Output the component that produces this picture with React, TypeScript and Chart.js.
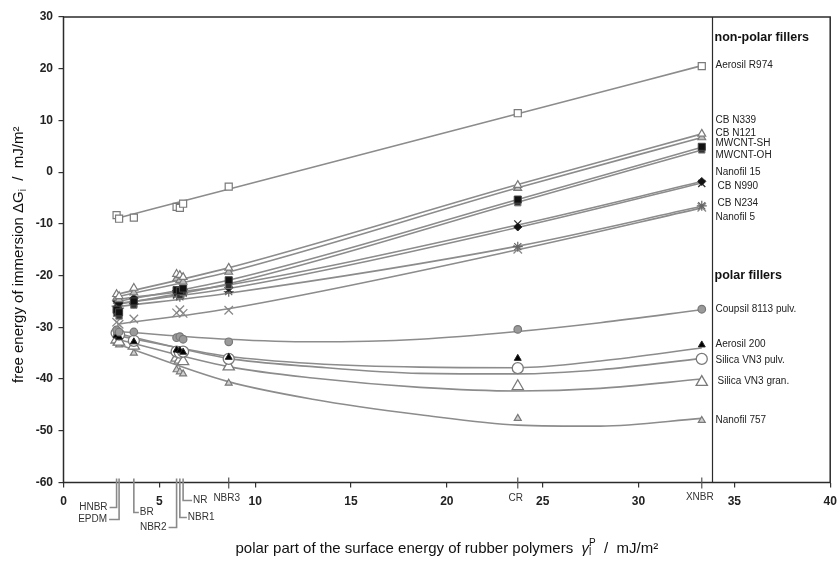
import React, { useEffect, useRef } from "react";
import { Chart, registerables } from "chart.js";
Chart.register(...registerables);

// ---------- data ----------
const polymers = ["HNBR", "EPDM", "BR", "NBR2", "NBR1", "NR", "NBR3", "CR", "XNBR"];
const polymerX = [2.77, 2.9, 3.67, 5.9, 6.07, 6.24, 8.62, 23.7, 33.3];

const fillerNames = [
  "Aerosil R974", "CB N339", "CB N121", "MWCNT-SH", "MWCNT-OH", "Nanofil 15", "CB N990", "CB N234", "Nanofil 5",
  "Coupsil 8113 pulv.", "Aerosil 200", "Silica VN3 pulv.", "Silica VN3 gran.", "Nanofil 757",
];

// measured free energy of immersion per polymer (order of `polymers`)
const aerosilR974 = [-8.3, -9.0, -8.8, -6.7, -6.9, -6.1, -2.8, 11.4, 20.5];
const cbN339 = [-23.6, -24.0, -22.4, -19.7, -19.9, -20.3, -18.5, -2.5, 7.4];
const cbN121 = [-24.3, -24.6, -23.3, -20.6, -20.9, -21.2, -19.3, -3.1, 6.7];
const mwcntSH = [-26.6, -27.1, -25.0, -22.8, -23.0, -22.5, -20.9, -5.3, 4.9];
const mwcntOH = [-27.3, -27.8, -25.7, -23.5, -23.8, -23.2, -21.9, -5.9, 4.3];
const nanofil15 = [-24.9, -25.3, -24.4, -22.9, -23.2, -22.7, -22.3, -10.6, -1.8];
const cbN990 = [-25.5, -25.8, -24.9, -23.6, -23.8, -23.2, -22.7, -10.0, -2.2];
const cbN234 = [-25.9, -26.3, -25.4, -23.8, -24.1, -23.4, -23.1, -14.4, -6.5];
const nanofil5 = [-29.0, -29.4, -28.4, -27.2, -26.6, -27.3, -26.7, -14.9, -6.8];
const coupsil8113 = [-30.5, -30.9, -30.9, -32.0, -31.8, -32.3, -32.8, -30.4, -26.5];
const aerosil200 = [-31.6, -31.9, -32.8, -34.4, -34.5, -34.8, -35.8, -36.0, -33.4];
const silicaVN3pulv = [-31.1, -31.4, -32.6, -34.7, -34.9, -34.7, -36.1, -37.9, -36.1];
const silicaVN3gran = [-32.4, -32.8, -33.6, -35.9, -36.3, -36.6, -37.6, -41.4, -40.6];
const nanofil757 = [-33.0, -33.4, -35.0, -38.2, -38.6, -39.0, -40.8, -47.6, -48.0];

// trend curves
const nonPolarTrendX = [2.8, 8.6, 23.7, 33.3];
const polarTrendX = [2.8, 8.6, 13, 18.6, 23.7, 28, 33.3];
const trendR974 = [-8.9, -3.3, 11.3, 20.6];
const trendN339 = [-23.6, -18.5, -2.4, 7.4];
const trendN121 = [-24.1, -19.3, -3.0, 6.7];
const trendSH = [-25.0, -20.9, -5.3, 4.8];
const trendOH = [-25.6, -21.6, -5.8, 4.3];
const trendNf15 = [-24.6, -21.8, -10.2, -1.8];
const trendN990 = [-25.4, -22.5, -10.7, -2.1];
const trendN234 = [-26.0, -23.4, -14.3, -6.6];
const trendNf5 = [-29.4, -26.4, -15.0, -6.9];
const trendCoupsil = [-30.8, -32.3, -32.8, -32.3, -30.8, -29.1, -26.6];
const trendA200 = [-31.6, -35.6, -37.0, -37.7, -37.8, -36.5, -34.0];
const trendVN3p = [-31.2, -36.0, -37.6, -38.9, -39.0, -38.2, -36.0];
const trendVN3g = [-32.3, -37.6, -39.8, -41.6, -42.3, -41.8, -40.0];
const trendNf757 = [-33.2, -40.5, -43.9, -46.9, -48.9, -49.1, -47.6];

const xTicks = [0, 5, 10, 15, 20, 25, 30, 35, 40];
const yTicks = [-60, -50, -40, -30, -20, -10, 0, 10, 20, 30];

const seriesValues = [
  aerosilR974, cbN339, cbN121, mwcntSH, mwcntOH, nanofil15, cbN990, cbN234, nanofil5,
  coupsil8113, aerosil200, silicaVN3pulv, silicaVN3gran, nanofil757,
];
const trendValues = [
  trendR974, trendN339, trendN121, trendSH, trendOH, trendNf15, trendN990, trendN234, trendNf5,
  trendCoupsil, trendA200, trendVN3p, trendVN3g, trendNf757,
];
const isPolar = [false, false, false, false, false, false, false, false, false, true, true, true, true, true];

// ---------- layout / style ----------
const GREY = "#7a7a7a";
const markerStyles = [
  { s: "rect", r: 5, f: "#ffffff", c: GREY, w: 1.2 },
  { s: "triangle", r: 4.5, f: "#ffffff", c: GREY, w: 1.2 },
  { s: "triangle", r: 4.5, f: "#bdbdbd", c: GREY, w: 1.2 },
  { s: "rect", r: 5, f: "#111111", c: "#444", w: 1 },
  { s: "rect", r: 4.5, f: "#333333", c: GREY, w: 1 },
  { s: "rectRot", r: 4, f: "#111111", c: "#222", w: 1 },
  { s: "crossRot", r: 5, f: "#222", c: "#333", w: 1.3 },
  { s: "star", r: 5, f: GREY, c: "#666", w: 1.2 },
  { s: "crossRot", r: 6, f: GREY, c: "#888", w: 1.3 },
  { s: "circle", r: 3.8, f: "#9a9a9a", c: "#777", w: 1.2 },
  { s: "triangle", r: 4, f: "#000000", c: "#222", w: 1 },
  { s: "circle", r: 5.5, f: "#ffffff", c: GREY, w: 1.3 },
  { s: "triangle", r: 6.5, f: "#ffffff", c: GREY, w: 1.3 },
  { s: "triangle", r: 4, f: "#d0d0d0", c: GREY, w: 1.2 },
];

const legendLabelY = [20.75, 10.1, 7.6, 5.5, 3.2, 0.06, -2.8, -6.1, -8.8, -26.5, -33.3, -36.4, -40.5, -48];
const legendIndent = [0, 0, 0, 0, 0, 0, 2, 2, 0, 0, 0, 0, 2, 0];
const legendHeaders = [
  { text: "non-polar fillers", y: 26.0 },
  { text: "polar fillers", y: -20.0 },
];
const separatorX = 33.85;

// polymer label placement below the x axis (pixel drop below axis, side of text, leader length)
const polymerLabelLayout = [
  { drop: 25, side: "left", lead: 7 },
  { drop: 37, side: "left", lead: 10 },
  { drop: 30, side: "right", lead: 5 },
  { drop: 45, side: "left", lead: 8 },
  { drop: 35, side: "right", lead: 7 },
  { drop: 18, side: "right", lead: 9 },
  { drop: 16, side: "none", lead: 0 },
  { drop: 16, side: "none", lead: 0 },
  { drop: 15, side: "none", lead: 0 },
];

const FONT = "Arial, 'Liberation Sans', Helvetica, sans-serif";

const decorPlugin = {
  id: "decor",
  afterDraw(chart: any) {
    const { ctx, chartArea: a } = chart;
    const xs = chart.scales.x;
    const ys = chart.scales.y;
    ctx.save();
    // frame
    ctx.strokeStyle = "#2b2b2b";
    ctx.lineWidth = 1.5;
    ctx.strokeRect(a.left, a.top, a.right - a.left, a.bottom - a.top);
    const sx = Math.round(xs.getPixelForValue(separatorX)) + 0.5;
    ctx.lineWidth = 1.2;
    ctx.beginPath();
    ctx.moveTo(sx, a.top);
    ctx.lineTo(sx, a.bottom);
    ctx.stroke();

    // legend texts
    ctx.textBaseline = "middle";
    ctx.textAlign = "left";
    ctx.fillStyle = "#111";
    ctx.font = `bold 12.5px ${FONT}`;
    legendHeaders.forEach((h) => ctx.fillText(h.text, sx + 2, ys.getPixelForValue(h.y)));
    ctx.font = `10px ${FONT}`;
    ctx.fillStyle = "#222";
    fillerNames.forEach((n, i) => ctx.fillText(n, sx + 3 + legendIndent[i], ys.getPixelForValue(legendLabelY[i])));

    // polymer markers on x axis
    ctx.fillStyle = "#333";
    ctx.font = `10px ${FONT}`;
    polymers.forEach((p, i) => {
      const px = xs.getPixelForValue(polymerX[i]);
      const L = polymerLabelLayout[i];
      const ty = a.bottom + L.drop;
      ctx.beginPath();
      if (L.side === "none") {
        ctx.strokeStyle = "#555";
        ctx.lineWidth = 1.2;
        ctx.moveTo(px, a.bottom - 5);
        ctx.lineTo(px, a.bottom + 6);
        ctx.stroke();
        ctx.textAlign = "center";
        ctx.fillText(p, px - 2, ty);
      } else {
        ctx.strokeStyle = "#8a8a8a";
        ctx.lineWidth = 1.6;
        ctx.moveTo(px, a.bottom - 4);
        ctx.lineTo(px, ty);
        if (L.side === "left") {
          ctx.lineTo(px - L.lead, ty);
          ctx.stroke();
          ctx.textAlign = "right";
          ctx.fillText(p, px - L.lead - 2, ty);
        } else {
          ctx.lineTo(px + L.lead, ty);
          ctx.stroke();
          ctx.textAlign = "left";
          ctx.fillText(p, px + L.lead + 1, ty);
        }
      }
    });

    // axis titles
    ctx.fillStyle = "#111";
    ctx.textAlign = "left";
    ctx.textBaseline = "alphabetic";
    const main = `15px ${FONT}`;
    const small = `10px ${FONT}`;
    // x title
    {
      const p1 = "polar part of the surface energy of rubber polymers  ";
      const g = "γ";
      const p3 = "  /  mJ/m²";
      ctx.font = main;
      const w1 = ctx.measureText(p1).width;
      const w3 = ctx.measureText(p3).width;
      ctx.font = `italic 15px ${FONT}`;
      const wg = ctx.measureText(g).width;
      ctx.font = small;
      const wsub = Math.max(ctx.measureText("l").width, ctx.measureText("P").width);
      const total = w1 + wg + wsub + w3;
      let x = (a.left + a.right) / 2 - total / 2;
      const y = 553;
      ctx.font = main;
      ctx.fillText(p1, x, y);
      x += w1;
      ctx.font = `italic 15px ${FONT}`;
      ctx.fillText(g, x, y);
      x += wg;
      ctx.font = small;
      ctx.fillText("l", x, y + 2);
      ctx.fillText("P", x, y - 7);
      x += wsub;
      ctx.font = main;
      ctx.fillText(p3, x, y);
    }
    // y title
    {
      const p1 = "free energy of immersion ΔG";
      const p3 = "  /  mJ/m²";
      ctx.font = main;
      const w1 = ctx.measureText(p1).width;
      const w3 = ctx.measureText(p3).width;
      ctx.font = small;
      const wi = ctx.measureText("i").width;
      const total = w1 + wi + w3;
      ctx.translate(23, (a.top + a.bottom) / 2 + 5);
      ctx.rotate(-Math.PI / 2);
      let x = -total / 2;
      ctx.font = main;
      ctx.fillText(p1, x, 0);
      x += w1;
      ctx.font = small;
      ctx.fillText("i", x, 3);
      x += wi;
      ctx.font = main;
      ctx.fillText(p3, x, 0);
    }
    ctx.restore();
  },
};

export default function App() {
  const ref = useRef<HTMLCanvasElement>(null);
  useEffect(() => {
    const datasets: any[] = [];
    seriesValues.forEach((vals, i) => {
      const m = markerStyles[i];
      datasets.push({
        label: fillerNames[i],
        data: polymerX.map((x, j) => ({ x, y: vals[j] })),
        showLine: false,
        pointStyle: m.s,
        pointRadius: m.r,
        pointBackgroundColor: m.f,
        pointBorderColor: m.c,
        pointBorderWidth: m.w,
        order: 1,
      });
    });
    trendValues.forEach((vals, i) => {
      const tx = isPolar[i] ? polarTrendX : nonPolarTrendX;
      datasets.push({
        label: fillerNames[i] + " trend",
        data: tx.map((x, j) => ({ x, y: vals[j] })),
        showLine: true,
        pointRadius: 0,
        borderColor: "#8c8c8c",
        borderWidth: 1.6,
        cubicInterpolationMode: "monotone",
        fill: false,
        order: 2,
      });
    });

    const chart = new Chart(ref.current!, {
      type: "scatter",
      data: { datasets },
      plugins: [decorPlugin],
      options: {
        animation: false,
        responsive: false,
        maintainAspectRatio: false,
        layout: { padding: { top: 17, right: 6.5, left: 0, bottom: 0 } },
        plugins: { legend: { display: false }, tooltip: { enabled: false } },
        scales: {
          x: {
            type: "linear",
            min: 0,
            max: 40,
            afterBuildTicks: (s: any) => {
              s.ticks = xTicks.map((v) => ({ value: v }));
            },
            afterFit: (s: any) => {
              s.height = 79.5;
              s.paddingLeft = 0;
              s.paddingRight = 0;
            },
            ticks: {
              font: { family: FONT, size: 12, weight: "bold" },
              color: "#222",
              padding: 7,
              maxRotation: 0,
              autoSkip: false,
            },
            grid: { drawOnChartArea: false, drawTicks: true, tickLength: 5, color: "#333", lineWidth: 1.2 },
            border: { display: false },
          },
          y: {
            type: "linear",
            min: -60,
            max: 30,
            afterBuildTicks: (s: any) => {
              s.ticks = yTicks.map((v) => ({ value: v }));
            },
            afterFit: (s: any) => {
              s.width = 63.5;
              s.paddingTop = 0;
              s.paddingBottom = 0;
            },
            ticks: {
              font: { family: FONT, size: 12, weight: "bold" },
              color: "#222",
              padding: 5.5,
              autoSkip: false,
            },
            grid: { drawOnChartArea: false, drawTicks: true, tickLength: 5, color: "#333", lineWidth: 1.2 },
            border: { display: false },
          },
        },
      } as any,
    });
    return () => chart.destroy();
  }, []);
  return (
    <div style={{ position: "fixed", left: 0, top: 0, width: 838, height: 562, background: "#fff" }}>
      <canvas ref={ref} width={838} height={562} style={{ width: 838, height: 562, display: "block" }} />
    </div>
  );
}
